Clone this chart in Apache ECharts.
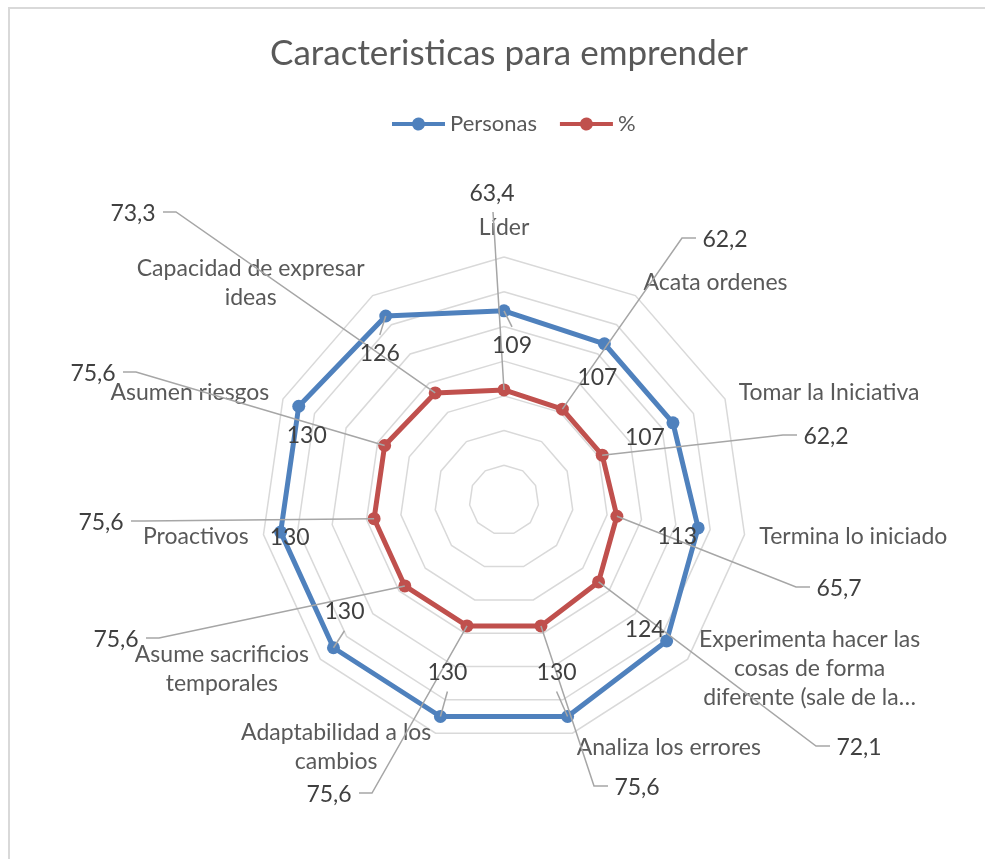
<!DOCTYPE html>
<html>
<head>
<meta charset="utf-8">
<title>Caracteristicas para emprender</title>
<script src="https://cdn.jsdelivr.net/npm/echarts@6/dist/echarts.min.js"></script>
<style>
  html, body { margin: 0; padding: 0; background: #fff; }
  #chart { width: 985px; height: 859px; }
</style>
</head>
<body>
<div id="chart"></div>
<script>
// categories, clockwise from the top as Excel draws them
const categories = [
  'Líder',
  'Acata ordenes',
  'Tomar la Iniciativa',
  'Termina lo iniciado',
  'Experimenta hacer las\ncosas de forma\ndiferente (sale de la…',
  'Analiza los errores',
  'Adaptabilidad a los\ncambios',
  'Asume sacrificios\ntemporales',
  'Proactivos',
  'Asumen riesgos',
  'Capacidad de expresar\nideas'
];
const personas = [109, 107, 107, 113, 124, 130, 130, 130, 130, 130, 126];
const porcentaje = [63.4, 62.2, 62.2, 65.7, 72.1, 75.6, 75.6, 75.6, 75.6, 75.6, 73.3];
const axisMax = 140;
const axisSplit = 7;

// label layout (Excel labels were dragged by hand)
const personasLabelOffset = [[8, 35], [-7, 34], [-28, 15], [-21, 9], [-22, -11], [-11, -44],
  [7, -44], [11, -36], [9, 5], [8, 29], [-6, 38]];
const personasLeader = [true, false, false, false, false, true, true, true, false, false, true];
const porcentajeLabelAt = [[492, 194], [725, 240], [826, 437], [839, 589], [859, 748], [637, 788],
  [329, 795], [116, 640], [101, 523], [93, 374], [133, 214]];

const FONT = 'Lato';
const BLUE = '#4f81bd';
const RED = '#c0504d';
const CENTER = [504, 500];
const RADIUS = 243;
const LABEL_SIZE = 23;

// echarts radar runs counter-clockwise, so feed it in reverse after the first
const order = [0].concat(categories.map((c, i) => i).slice(1).reverse());
const fmt = v => (Number.isInteger(v) ? String(v) : v.toFixed(1).replace('.', ','));

const chart = echarts.init(document.getElementById('chart'));

const richName = {
  c: { align: 'center', fontSize: LABEL_SIZE, fontFamily: FONT, color: '#595959', lineHeight: 29 }
};

chart.setOption({
  animation: false,
  backgroundColor: '#fff',
  title: {
    text: 'Caracteristicas para emprender',
    left: 504,
    textAlign: 'center',
    top: 31,
    textStyle: { fontSize: 35, fontWeight: 'normal', color: '#595959', fontFamily: FONT }
  },
  legend: {
    top: 108,
    left: 387,
    itemGap: 23,
    itemWidth: 53,
    itemHeight: 13,
    icon: 'path://M0,4.5L20.32,4.5A6.5,6.5 0 0 1 32.68,4.5L53,4.5L53,8.5L32.68,8.5A6.5,6.5 0 0 1 20.32,8.5L0,8.5Z',
    textStyle: { fontSize: 22, color: '#595959', fontFamily: FONT },
    data: ['Personas', '%']
  },
  radar: {
    center: CENTER,
    radius: RADIUS,
    startAngle: 90,
    shape: 'polygon',
    splitNumber: axisSplit,
    nameGap: 15,
    indicator: order.map(i => ({ name: categories[i], min: 0, max: axisMax })),
    axisName: {
      color: '#595959',
      fontSize: LABEL_SIZE,
      fontFamily: FONT,
      lineHeight: 29,
      formatter: name => name.split('\n').map(s => '{c|' + s + '}').join('\n'),
      rich: richName
    },
    axisLine: { show: false },
    axisTick: { show: false },
    axisLabel: { show: false },
    splitArea: { show: false },
    splitLine: { lineStyle: { color: '#d9d9d9', width: 1.5 } }
  },
  series: [{
    type: 'radar',
    symbol: 'circle',
    symbolSize: 13,
    data: [
      {
        name: 'Personas',
        value: order.map(i => personas[i]),
        itemStyle: { color: BLUE },
        lineStyle: { color: BLUE, width: 5 }
      },
      {
        name: '%',
        value: order.map(i => porcentaje[i]),
        itemStyle: { color: RED },
        lineStyle: { color: RED, width: 5 }
      }
    ]
  }]
});

function pointOf(value, i) {
  const model = chart.getModel && chart.getModel();
  const radar = model && model.getComponent('radar', 0);
  const cs = radar && radar.coordinateSystem;
  if (cs && cs.dataToPoint) return cs.dataToPoint(value, order.indexOf(i));
  const a = i * 2 * Math.PI / categories.length;
  const r = value / axisMax * RADIUS;
  return [CENTER[0] + r * Math.sin(a), CENTER[1] - r * Math.cos(a)];
}

const leaderStyle = { stroke: '#a6a6a6', lineWidth: 1.5, fill: null };
const valueText = (x, y, text) => ({
  type: 'text', x: x, y: y, z: 120,
  style: { text: text, fill: '#404040', fontSize: LABEL_SIZE, fontFamily: FONT, align: 'center', verticalAlign: 'middle' }
});

const graphics = [{
  type: 'rect', z: 0,
  shape: { x: 9, y: 8, width: 1200, height: 1200 },
  style: { fill: null, stroke: '#d9d9d9', lineWidth: 2 }
}];

personas.forEach((v, i) => {
  const p = pointOf(v, i);
  const lx = p[0] + personasLabelOffset[i][0];
  const ly = p[1] + personasLabelOffset[i][1];
  if (personasLeader[i]) {
    const endY = ly > p[1] ? ly - 19 : ly + 19;
    graphics.push({ type: 'polyline', z: 110, shape: { points: [p, [lx, endY]] }, style: leaderStyle });
  }
  graphics.push(valueText(lx, ly, fmt(v)));
});

porcentaje.forEach((v, i) => {
  const p = pointOf(v, i);
  const lx = porcentajeLabelAt[i][0];
  const ly = porcentajeLabelAt[i][1];
  let pts;
  if (Math.abs(lx - p[0]) < 40) {
    pts = [[lx + 1, ly + 18], p];
  } else if (lx > p[0]) {
    pts = [[lx - 29, ly - 2], [lx - 43, ly - 2], p];
  } else {
    pts = [[lx + 30, ly - 2], [lx + 43, ly - 2], p];
  }
  graphics.push({ type: 'polyline', z: 110, shape: { points: pts }, style: leaderStyle });
  graphics.push(valueText(lx, ly, fmt(v)));
});

chart.setOption({ graphic: graphics });
</script>
</body>
</html>
